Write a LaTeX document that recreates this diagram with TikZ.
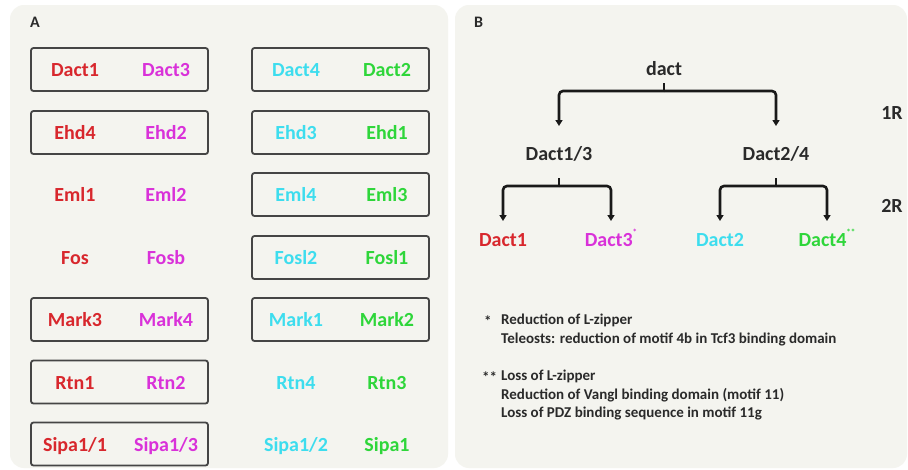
\documentclass[tikz,border=0pt]{standalone}
\usepackage{fontspec}
\setmainfont{Carlito}
\usetikzlibrary{arrows.meta}
\definecolor{pRed}{HTML}{D8272D}
\definecolor{pMag}{HTML}{D931D9}
\definecolor{pCyan}{HTML}{3DDDEE}
\definecolor{pGreen}{HTML}{2ED63A}
\definecolor{panelbg}{HTML}{F4F4EF}
\definecolor{ink}{HTML}{2A2A2A}
\definecolor{boxline}{HTML}{454545}
\tikzset{
  gene/.style={font=\bfseries\fontsize{20}{24}\selectfont, anchor=base, inner sep=0pt},
  pairbox/.style={draw=boxline, line width=1.8pt, rounded corners=2.5pt,
    minimum width=177pt, minimum height=43pt, inner sep=0pt},
  panellabel/.style={font=\bfseries\fontsize{16}{20}\selectfont, text=ink, anchor=base west, inner sep=0pt},
  treelabel/.style={gene, text=ink},
  note/.style={font=\bfseries\fontsize{15}{18}\selectfont, text=ink, anchor=base west, inner sep=0pt},
  branch/.style={draw=black!90, line width=2.6pt, rounded corners=4pt},
  arrowbranch/.style={branch, -{Triangle[width=7pt,length=6pt]}},
}
\newcommand{\supstar}[1]{\raisebox{1.1ex}{\fontsize{9}{9}\selectfont #1}}
\begin{document}
\begin{tikzpicture}[x=1pt,y=-1pt]
\useasboundingbox (0,0) rectangle (908,469);
\fill[white] (0,0) rectangle (908,469);
% two panels
\fill[panelbg, rounded corners=14pt] (10,5) rectangle (448,468);
\fill[panelbg, rounded corners=14pt] (455,5) rectangle (907,468);

\node[panellabel] (labA) at (30,27) {A};
\node[panellabel] (labB) at (474,27) {B};

% ---------- panel A: ohnolog pairs ----------
\foreach \y/\a/\b/\c/\d/\bl/\br [count=\i] in {
  69.5/Dact1/Dact3/Dact4/Dact2/1/1,
  132.5/Ehd4/Ehd2/Ehd3/Ehd1/1/1,
  194.5/Eml1/Eml2/Eml4/Eml3/0/1,
  257.5/Fos/Fosb/Fosl2/Fosl1/0/1,
  319.5/Mark3/Mark4/Mark1/Mark2/1/1,
  382/Rtn1/Rtn2/Rtn4/Rtn3/1/0,
  444/Sipa1\slash 1/Sipa1\slash 3/Sipa1\slash 2/Sipa1/1/0}{
  \ifnum\bl=1 \node[pairbox] (boxL\i) at (119.5,\y) {}; \fi
  \ifnum\br=1 \node[pairbox] (boxR\i) at (340.5,\y) {}; \fi
  \node[gene, text=pRed]   (ga\i) at (75,{\y+7}) {\a};
  \node[gene, text=pMag]   (gb\i) at (166,{\y+7}) {\b};
  \node[gene, text=pCyan]  (gc\i) at (296,{\y+7}) {\c};
  \node[gene, text=pGreen] (gd\i) at (387,{\y+7}) {\d};
}

% ---------- panel B: dact tree ----------
\node[treelabel] (dact) at (664,75) {dact};
\node[treelabel] (d13) at (559,160) {Dact1/3};
\node[treelabel] (d24) at (776,160) {Dact2/4};
\node[gene, text=pRed]   (l1) at (503,246) {Dact1};
\node[gene, text=pMag]   (l3) at (611,246) {Dact3\supstar{*}};
\node[gene, text=pCyan]  (l2) at (720,246) {Dact2};
\node[gene, text=pGreen] (l4) at (827,246) {Dact4\supstar{**}};
\node[treelabel] (r1) at (892,119) {1R};
\node[treelabel] (r2) at (892,212) {2R};

\coordinate (s0) at (664,83);
\coordinate (j0) at (664,91);
\coordinate (t13) at (559,126);
\coordinate (t24) at (776,126);
\coordinate (s1) at (559,178);
\coordinate (j1) at (559,186);
\coordinate (s2) at (776,178);
\coordinate (j2) at (776,186);
\coordinate (t1) at (503,221);
\coordinate (t3) at (611,221);
\coordinate (t2) at (720,221);
\coordinate (t4) at (827,221);

\draw[branch] (s0) -- (j0);
\draw[arrowbranch] (j0) -| (t13);
\draw[arrowbranch] (j0) -| (t24);
\draw[branch] (s1) -- (j1);
\draw[arrowbranch] (j1) -| (t1);
\draw[arrowbranch] (j1) -| (t3);
\draw[branch] (s2) -- (j2);
\draw[arrowbranch] (j2) -| (t2);
\draw[arrowbranch] (j2) -| (t4);

% footnotes
\node[note] (n1s) at (484,326) {*};
\node[note] (n1a) at (501,324) {Reduction of L-zipper};
\node[note] (n1b) at (501,343) {Teleosts: reduction of motif 4b in Tcf3 binding domain};
\node[note] (n2s) at (482,382) {**};
\node[note] (n2a) at (501,380) {Loss of L-zipper};
\node[note] (n2b) at (501,399) {Reduction of Vangl binding domain (motif 11)};
\node[note] (n2c) at (501,417) {Loss of PDZ binding sequence in motif 11g};
\end{tikzpicture}
\end{document}
